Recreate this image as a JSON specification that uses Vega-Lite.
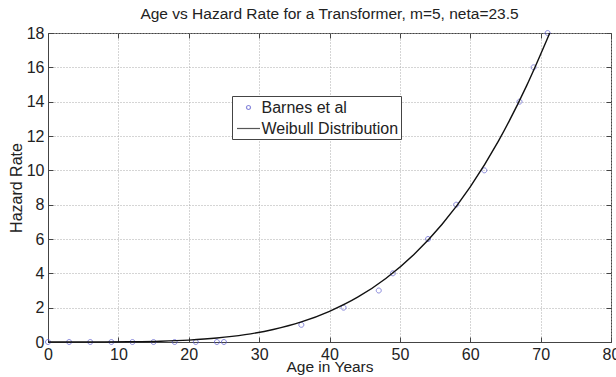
{
  "$schema": "https://vega.github.io/schema/vega-lite/v6.json",
  "width": 563,
  "height": 309,
  "autosize": {"type": "none"},
  "padding": {"left": 48, "top": 33, "right": 5, "bottom": 35},
  "background": "white",
  "title": {"text": "Age vs Hazard Rate for a Transformer, m=5, neta=23.5", "fontSize": 15.5, "fontWeight": "normal", "font": "Liberation Sans", "color": "#222", "offset": 3},
  "config": {
    "font": "Liberation Sans",
    "view": {"stroke": "#444", "strokeWidth": 1},
    "axis": {"labelFontSize": 16, "titleFontSize": 16, "titleFontWeight": "normal", "labelColor": "#222", "titleColor": "#222", "domainColor": "#444", "tickColor": "#444", "gridColor": "#aaa", "gridDash": [1, 2], "gridOpacity": 1}
  },
  "datasets": {
    "barnes": [
      {"age": 0, "rate": 0, "series": "Barnes et al"},
      {"age": 3, "rate": 0, "series": "Barnes et al"},
      {"age": 6, "rate": 0, "series": "Barnes et al"},
      {"age": 9, "rate": 0, "series": "Barnes et al"},
      {"age": 12, "rate": 0, "series": "Barnes et al"},
      {"age": 15, "rate": 0, "series": "Barnes et al"},
      {"age": 18, "rate": 0, "series": "Barnes et al"},
      {"age": 21, "rate": 0, "series": "Barnes et al"},
      {"age": 24, "rate": 0, "series": "Barnes et al"},
      {"age": 25, "rate": 0, "series": "Barnes et al"},
      {"age": 36, "rate": 1, "series": "Barnes et al"},
      {"age": 42, "rate": 2, "series": "Barnes et al"},
      {"age": 47, "rate": 3, "series": "Barnes et al"},
      {"age": 49, "rate": 4, "series": "Barnes et al"},
      {"age": 54, "rate": 6, "series": "Barnes et al"},
      {"age": 58, "rate": 8, "series": "Barnes et al"},
      {"age": 62, "rate": 10, "series": "Barnes et al"},
      {"age": 67, "rate": 14, "series": "Barnes et al"},
      {"age": 69, "rate": 16, "series": "Barnes et al"},
      {"age": 71, "rate": 18, "series": "Barnes et al"}
    ],
    "weibull": [
      {"age": 0, "rate": 0, "series": "Weibull Distribution"},
      {"age": 4, "rate": 0.0002, "series": "Weibull Distribution"},
      {"age": 8, "rate": 0.003, "series": "Weibull Distribution"},
      {"age": 12, "rate": 0.015, "series": "Weibull Distribution"},
      {"age": 16, "rate": 0.046, "series": "Weibull Distribution"},
      {"age": 20, "rate": 0.112, "series": "Weibull Distribution"},
      {"age": 24, "rate": 0.231, "series": "Weibull Distribution"},
      {"age": 28, "rate": 0.429, "series": "Weibull Distribution"},
      {"age": 32, "rate": 0.73, "series": "Weibull Distribution"},
      {"age": 36, "rate": 1.17, "series": "Weibull Distribution"},
      {"age": 40, "rate": 1.79, "series": "Weibull Distribution"},
      {"age": 44, "rate": 2.61, "series": "Weibull Distribution"},
      {"age": 48, "rate": 3.7, "series": "Weibull Distribution"},
      {"age": 52, "rate": 5.1, "series": "Weibull Distribution"},
      {"age": 56, "rate": 6.86, "series": "Weibull Distribution"},
      {"age": 60, "rate": 9.04, "series": "Weibull Distribution"},
      {"age": 64, "rate": 11.7, "series": "Weibull Distribution"},
      {"age": 68, "rate": 14.92, "series": "Weibull Distribution"},
      {"age": 71.3, "rate": 18, "series": "Weibull Distribution"}
    ]
  },
  "layer": [
    {
      "data": {"name": "barnes"},
      "mark": {"type": "point", "filled": false, "size": 400, "strokeWidth": 1, "clip": false},
      "encoding": {
        "x": {"field": "age", "type": "quantitative", "scale": {"domain": [0, 80], "nice": false, "zero": false},
          "axis": {"orient": "bottom", "title": "Age in Years", "titleFontSize": 15.5, "values": [0, 10, 20, 30, 40, 50, 60, 70, 80], "tickSize": -5, "labelPadding": 9, "titlePadding": -3, "grid": true, "domain": true, "labelFlush": false}},
        "y": {"field": "rate", "type": "quantitative", "scale": {"domain": [0, 18], "nice": false, "zero": false},
          "axis": {"orient": "left", "title": "Hazard Rate", "values": [0, 2, 4, 6, 8, 10, 12, 14, 16, 18], "tickSize": -5, "labelPadding": 9, "titlePadding": 2, "grid": true, "domain": true, "labelFlush": false}},
        "color": {"field": "series", "type": "nominal", "scale": {"domain": ["Barnes et al", "Weibull Distribution"], "range": ["#5555cc", "#111111"]},
          "legend": {"title": null, "orient": "none", "legendX": 184, "legendY": 63, "fillColor": "white", "strokeColor": "#444", "padding": 2.5, "labelFontSize": 16, "labelColor": "#222", "symbolSize": 256, "symbolStrokeWidth": 1.2, "symbolOffset": 5, "labelOffset": 4, "rowPadding": 4}},
        "shape": {"field": "series", "type": "nominal", "scale": {"domain": ["Barnes et al", "Weibull Distribution"], "range": ["M0.25,0A0.25,0.25 0 1,1 -0.25,0A0.25,0.25 0 1,1 0.25,0Z", "M-1.44,0H1.44"]}}
      }
    },
    {
      "data": {"name": "weibull"},
      "mark": {"type": "line", "strokeWidth": 1.4, "interpolate": "monotone", "clip": false},
      "encoding": {
        "x": {"field": "age", "type": "quantitative", "axis": {"orient": "top", "title": null, "labels": false, "values": [0, 10, 20, 30, 40, 50, 60, 70, 80], "tickSize": -5, "grid": false, "domain": false}},
        "y": {"field": "rate", "type": "quantitative", "axis": {"orient": "right", "title": null, "labels": false, "values": [0, 2, 4, 6, 8, 10, 12, 14, 16, 18], "tickSize": -5, "grid": false, "domain": false}},
        "color": {"field": "series", "type": "nominal"}
      }
    }
  ],
  "resolve": {"axis": {"x": "independent", "y": "independent"}}
}
